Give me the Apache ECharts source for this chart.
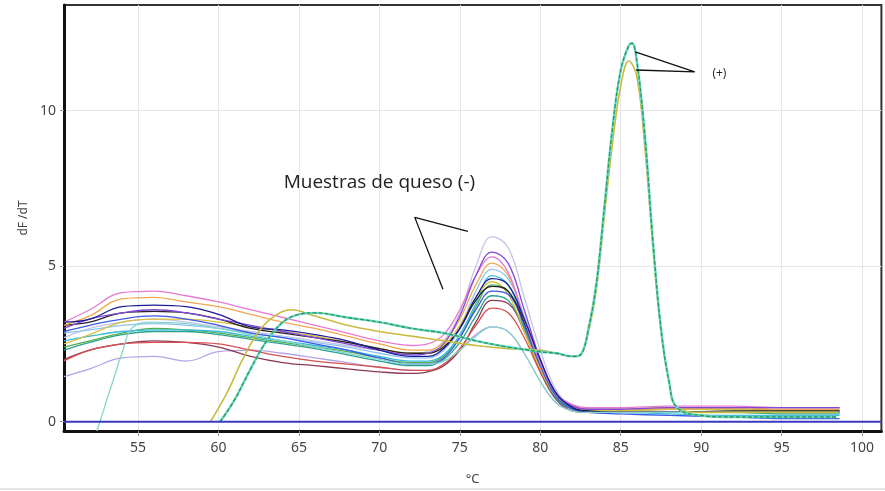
<!DOCTYPE html>
<html><head><meta charset="utf-8">
<script src="https://cdn.jsdelivr.net/npm/echarts@6/dist/echarts.min.js"></script>
<style>html,body{margin:0;padding:0;background:#fff}#c{width:885px;height:491px}</style>
</head><body><div id="c"></div>
<script>
// temperature grid for negative samples (°C)
const temps = [50.4, 52, 54, 56, 58, 60, 62, 64, 66, 68, 70, 72, 73, 74, 75, 76, 77, 78, 79, 80, 81, 82, 83, 85, 88, 92, 95, 98.6];
// negative cheese samples dF/dT
const negPink   = [3.2, 3.6, 4.15, 4.2, 4.05, 3.85, 3.6, 3.35, 3.1, 2.85, 2.6, 2.45, 2.5, 2.8, 3.6, 4.7, 5.3, 4.8, 3.3, 1.9, 0.9, 0.55, 0.45, 0.45, 0.5, 0.5, 0.45, 0.45];
const negOrange = [3.1, 3.4, 3.95, 4.0, 3.85, 3.7, 3.45, 3.2, 3.0, 2.75, 2.5, 2.3, 2.3, 2.55, 3.3, 4.4, 5.1, 4.7, 3.3, 1.9, 0.9, 0.5, 0.4, 0.4, 0.45, 0.45, 0.4, 0.4];
const negGold   = [2.5, 2.8, 3.2, 3.3, 3.3, 3.2, 3.05, 2.9, 2.75, 2.55, 2.35, 2.2, 2.2, 2.45, 3.1, 4.0, 4.5, 4.1, 2.9, 1.7, 0.8, 0.5, 0.4, 0.35, 0.4, 0.4, 0.35, 0.35];
const negNavy   = [3.2, 3.3, 3.7, 3.75, 3.7, 3.45, 3.05, 2.95, 2.8, 2.6, 2.3, 2.1, 2.1, 2.35, 3.0, 4.0, 4.6, 4.4, 3.3, 2.0, 0.9, 0.45, 0.3, 0.3, 0.3, 0.3, 0.3, 0.3];
const negBlack  = [3.1, 3.2, 3.5, 3.55, 3.5, 3.3, 3.0, 2.85, 2.7, 2.55, 2.35, 2.2, 2.2, 2.4, 3.0, 3.9, 4.35, 4.2, 3.2, 1.9, 0.9, 0.45, 0.35, 0.3, 0.3, 0.35, 0.35, 0.35];
const negBlue   = [2.9, 3.1, 3.3, 3.4, 3.3, 3.1, 2.85, 2.7, 2.5, 2.3, 2.05, 1.85, 1.85, 2.05, 2.7, 3.6, 4.2, 4.1, 3.1, 1.8, 0.8, 0.4, 0.3, 0.25, 0.2, 0.15, 0.1, 0.1];
const negLtBlue = [2.85, 2.95, 3.1, 3.15, 3.1, 3.0, 2.85, 2.7, 2.55, 2.4, 2.2, 2.05, 2.05, 2.3, 3.0, 4.2, 4.9, 4.6, 3.4, 1.9, 0.85, 0.45, 0.35, 0.3, 0.3, 0.3, 0.3, 0.3];
const negCyan   = [2.6, 2.75, 2.9, 2.95, 2.95, 2.9, 2.75, 2.6, 2.45, 2.3, 2.1, 1.95, 1.95, 2.15, 2.8, 3.8, 4.7, 4.4, 3.2, 1.8, 0.8, 0.4, 0.3, 0.3, 0.25, 0.2, 0.2, 0.2];
const negTeal   = [2.3, 2.55, 2.8, 2.9, 2.9, 2.8, 2.65, 2.5, 2.35, 2.15, 1.95, 1.8, 1.8, 2.0, 2.55, 3.4, 4.05, 3.9, 3.0, 1.7, 0.75, 0.4, 0.3, 0.3, 0.3, 0.3, 0.25, 0.25];
const negRed    = [1.95, 2.3, 2.5, 2.55, 2.55, 2.5, 2.3, 2.1, 1.95, 1.85, 1.75, 1.65, 1.65, 1.85, 2.35, 3.1, 3.65, 3.5, 2.7, 1.6, 0.75, 0.4, 0.35, 0.35, 0.4, 0.4, 0.35, 0.35];
const negLav    = [1.45, 1.7, 2.05, 2.1, 1.95, 2.25, 2.3, 2.2, 2.05, 1.9, 1.75, 1.65, 1.65, 1.8, 2.3, 2.8, 3.05, 2.9, 2.2, 1.3, 0.6, 0.35, 0.3, 0.3, 0.3, 0.3, 0.3, 0.3];
const negPurple = [3.0, 3.3, 3.5, 3.6, 3.5, 3.3, 3.1, 2.9, 2.7, 2.5, 2.3, 2.15, 2.2, 2.5, 3.4, 4.7, 5.45, 5.1, 3.6, 2.0, 0.9, 0.5, 0.4, 0.4, 0.45, 0.45, 0.45, 0.45];
const negGray   = [2.7, 3.0, 3.2, 3.3, 3.2, 3.05, 2.9, 2.75, 2.6, 2.45, 2.3, 2.2, 2.25, 2.6, 3.5, 5.0, 5.95, 5.6, 4.0, 2.3, 1.0, 0.5, 0.4, 0.4, 0.4, 0.4, 0.4, 0.4];
const negMaroon = [2.0, 2.3, 2.5, 2.6, 2.55, 2.4, 2.1, 1.9, 1.8, 1.7, 1.6, 1.55, 1.6, 1.8, 2.3, 3.2, 3.9, 3.8, 2.9, 1.6, 0.7, 0.35, 0.3, 0.3, 0.3, 0.3, 0.3, 0.3];
const negGreen  = [2.4, 2.6, 2.85, 3.0, 2.95, 2.85, 2.7, 2.55, 2.4, 2.25, 2.05, 1.9, 1.9, 2.1, 2.7, 3.7, 4.4, 4.2, 3.1, 1.8, 0.8, 0.4, 0.3, 0.3, 0.3, 0.3, 0.3, 0.3];
// late-starting sample
const aquaT = [52.45, 53, 53.5, 54, 54.7, 56, 58, 60, 62, 64, 66, 68, 70, 72, 73, 74, 75, 76, 77, 78, 79, 80, 81, 82, 83, 85, 88, 92, 95, 98.6];
const aquaV = [-0.3, 0.6, 1.4, 2.2, 3.05, 3.2, 3.15, 3.0, 2.8, 2.6, 2.4, 2.2, 2.0, 1.85, 1.85, 1.95, 2.3, 2.75, 3.05, 2.9, 2.2, 1.3, 0.6, 0.35, 0.3, 0.3, 0.3, 0.3, 0.3, 0.3];
// positive controls (+)
const pos1T = [60.1, 61, 62, 63, 64, 65, 66, 68, 70, 72, 74, 76, 78, 80, 81, 82, 82.5, 83, 83.5, 84, 84.5, 85, 85.5, 85.7, 86, 86.5, 87, 87.5, 88, 88.5, 90, 92, 95, 98.4];
const pos1V = [0, 0.7, 1.7, 2.6, 3.2, 3.45, 3.5, 3.35, 3.2, 3.0, 2.85, 2.6, 2.4, 2.25, 2.2, 2.1, 2.15, 3.0, 4.5, 7.0, 9.5, 11.3, 12.1, 12.17, 11.6, 9.2, 5.8, 3.0, 1.3, 0.45, 0.2, 0.15, 0.15, 0.15];
const pos2T = [59.5, 60.5, 61.5, 62.5, 63.5, 64.5, 66, 68, 70, 72, 74, 76, 78, 80, 81, 82, 82.5, 83, 83.5, 84, 84.5, 85, 85.5, 86, 86.5, 87, 87.5, 88, 88.5, 90, 92, 95, 98.4];
const pos2V = [0, 0.9, 2.0, 2.9, 3.4, 3.6, 3.4, 3.1, 2.9, 2.75, 2.6, 2.45, 2.35, 2.3, 2.2, 2.1, 2.15, 2.9, 4.3, 6.7, 9.0, 10.8, 11.6, 11.1, 8.8, 5.6, 2.9, 1.3, 0.45, 0.3, 0.3, 0.3, 0.3];
// blank baseline
const blankT = [50.4, 101.2];
const blankV = [0, 0];
// axis ticks
const xTicks = [55, 60, 65, 70, 75, 80, 85, 90, 95, 100];
const yTicks = [0, 5, 10];
// annotation pointers [temp, value]
const annNeg = [[75.5, 6.12], [72.2, 6.57], [73.95, 4.26]];
const annPos = [[85.9, 11.89], [89.6, 11.25], [85.95, 11.31]];

const negs = [
  [negGray, '#c4c2e4'], [negLav, '#b4a4e6'], [negMaroon, '#8a3a50'], [negRed, '#d85050'],
  [negTeal, '#2aa090'], [negGreen, '#50b050'], [negCyan, '#38b8dc'], [negLtBlue, '#8cc4f4'],
  [negGold, '#d8c040'], [negBlue, '#3a5ae6'], [negBlack, '#222222'], [negOrange, '#f0a850'],
  [negPink, '#e67ad0'], [negPurple, '#8048d8'], [negNavy, '#1c1c96']
];
function pairs(xs, ys) { return xs.map((x, i) => [x, ys[i]]); }
const series = [];
negs.forEach(([v, c]) => series.push({type: 'line', data: pairs(temps, v), smooth: 0.4, showSymbol: false, lineStyle: {color: c, width: 1.3}}));
series.push({type: 'line', data: pairs(aquaT, aquaV), smooth: 0.4, showSymbol: false, lineStyle: {color: '#88d4cc', width: 1.3}});
series.push({type: 'line', data: pairs(pos2T, pos2V), smooth: 0.4, showSymbol: false, lineStyle: {color: '#c8bc40', width: 1.6}});
series.push({type: 'line', data: pairs(pos1T, pos1V), smooth: 0.4, showSymbol: false, lineStyle: {color: '#6ad8c8', width: 2.4}});
series.push({type: 'line', data: pairs(pos1T, pos1V), smooth: 0.4, showSymbol: false, lineStyle: {color: '#2a9a58', width: 1.3, type: [4, 2]}});
series.push({type: 'line', data: pairs(blankT, blankV), showSymbol: false, lineStyle: {color: '#3838c0', width: 2}, z: 5});
series.push({type: 'line', data: annNeg, showSymbol: false, lineStyle: {color: '#111', width: 1.3}, z: 6});
series.push({type: 'line', data: annPos, showSymbol: false, lineStyle: {color: '#111', width: 1.3}, z: 6});

const chart = echarts.init(document.getElementById('c'));
chart.setOption({
  animation: false,
  backgroundColor: '#fff',
  grid: {left: 64, right: 3.6, top: 5, bottom: 58.6, show: true, borderColor: '#333', borderWidth: 2},
  xAxis: {
    type: 'value', min: 50.4, max: 101.2,
    name: '°C', nameLocation: 'middle', nameGap: 42,
    nameTextStyle: {color: '#444', fontSize: 13, fontFamily: 'Noto Sans'},
    axisLine: {show: true, onZero: false, lineStyle: {color: '#111', width: 3}},
    axisTick: {show: true, length: 5, customValues: xTicks, lineStyle: {color: '#999'}},
    axisLabel: {customValues: xTicks, color: '#444', fontSize: 14, fontFamily: 'Noto Sans', margin: 10},
    splitLine: {show: true, lineStyle: {color: '#e6e6e6', width: 1}}
  },
  yAxis: {
    type: 'value', min: -0.3, max: 13.4,
    name: 'dF /dT', nameLocation: 'middle', nameGap: 34, nameRotate: 90,
    nameTextStyle: {color: '#444', fontSize: 12, fontFamily: 'Noto Sans'},
    axisLine: {show: true, onZero: false, lineStyle: {color: '#111', width: 3}},
    axisTick: {show: true, length: 4, customValues: yTicks, lineStyle: {color: '#999'}},
    axisLabel: {customValues: yTicks, color: '#444', fontSize: 14, fontFamily: 'Noto Sans', margin: 8},
    splitLine: {show: true, lineStyle: {color: '#e6e6e6', width: 1}}
  },
  series: series
});
const pNeg = chart.convertToPixel({gridIndex: 0}, [70.0, 7.69]);
const pPos = chart.convertToPixel({gridIndex: 0}, [90.7, 11.2]);
chart.setOption({
  graphic: [
    {type: 'text', x: pNeg[0], y: pNeg[1], style: {text: 'Muestras de queso (-)', fill: '#222', font: '19px "Open Sans"', textAlign: 'center', textVerticalAlign: 'middle'}},
    {type: 'text', x: pPos[0], y: pPos[1], style: {text: '(+)', fill: '#222', font: '12px "Open Sans"', textAlign: 'left', textVerticalAlign: 'middle'}},
    {type: 'line', shape: {x1: 0, y1: 489, x2: 885, y2: 489}, style: {stroke: '#c8c8c8', lineWidth: 1}}
  ]
});
</script>
</body></html>
